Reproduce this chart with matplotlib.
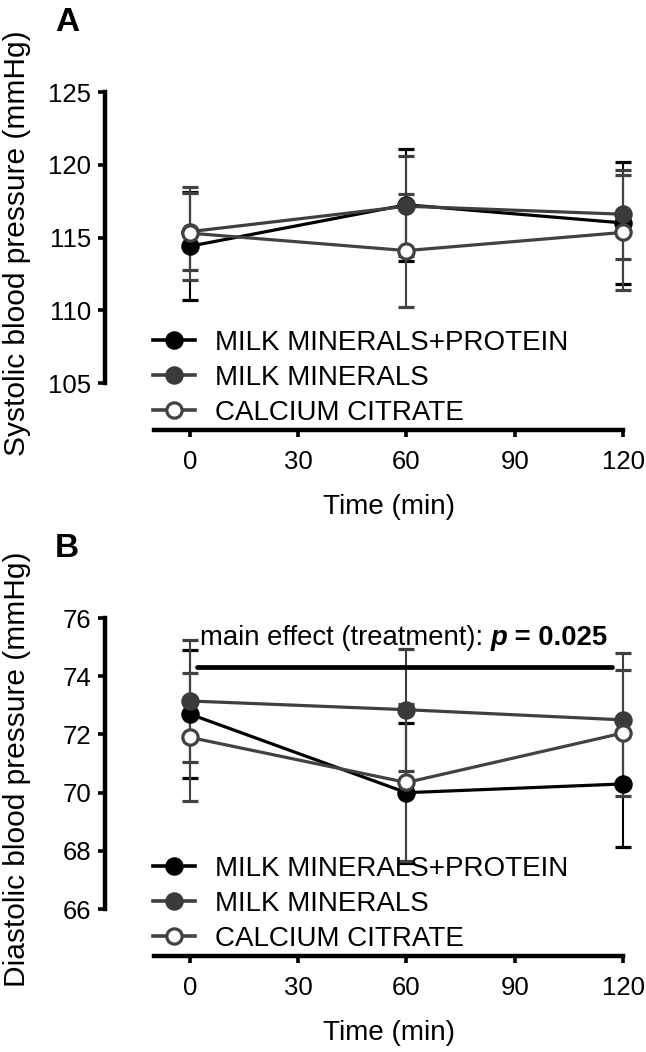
import matplotlib
matplotlib.use("Agg")
import matplotlib.pyplot as plt
from matplotlib.lines import Line2D

plt.rcParams['font.family'] = ['Liberation Sans', 'DejaVu Sans']

# Data
time = [0, 60, 120]
series = ['MILK MINERALS+PROTEIN', 'MILK MINERALS', 'CALCIUM CITRATE']

sbp_mean = {
    'MILK MINERALS+PROTEIN': [114.4, 117.25, 116.0],
    'MILK MINERALS': [115.4, 117.15, 116.6],
    'CALCIUM CITRATE': [115.3, 114.1, 115.35],
}
sbp_err = {
    'MILK MINERALS+PROTEIN': [3.7, 3.85, 4.2],
    'MILK MINERALS': [2.65, 3.45, 3.05],
    'CALCIUM CITRATE': [3.2, 3.9, 3.95],
}
dbp_mean = {
    'MILK MINERALS+PROTEIN': [72.7, 70.0, 70.3],
    'MILK MINERALS': [73.15, 72.85, 72.5],
    'CALCIUM CITRATE': [71.9, 70.35, 72.05],
}
dbp_err = {
    'MILK MINERALS+PROTEIN': [2.2, 2.4, 2.15],
    'MILK MINERALS': [2.1, 2.1, 2.3],
    'CALCIUM CITRATE': [2.2, 2.7, 2.15],
}
xticks = [0, 30, 60, 90, 120]

styles = {
    'MILK MINERALS+PROTEIN': dict(color='#000000', mfc='#000000', mec='#000000'),
    'MILK MINERALS': dict(color='#3f3f3f', mfc='#3a3a3a', mec='#3a3a3a'),
    'CALCIUM CITRATE': dict(color='#424242', mfc='white', mec='#424242'),
}

W, H = 646, 1052
fig = plt.figure(figsize=(W / 100, H / 100), dpi=100)


def make_panel(top_px, means, errs, ylim, ybounds, yticks, ylabel, letter):
    left, right, bottom = 105, 626, top_px + 338
    ax = fig.add_axes([left / W, 1 - bottom / H, (right - left) / W, 338 / H])
    handles = []
    for name in series:
        st = styles[name]
        ax.errorbar(time, means[name], yerr=errs[name], fmt='-o',
                    color=st['color'], mfc=st['mfc'], mec=st['mec'],
                    lw=2.3, ms=11, mew=2.3, elinewidth=1.5, capsize=5.5,
                    capthick=1.6, ecolor=st['color'], clip_on=False)
        handles.append(Line2D([], [], color=st['color'], marker='o',
                              mfc=st['mfc'], mec=st['mec'], lw=2.6,
                              ms=11, mew=2.3, label=name))
    ax.set_xlim(-23.5, 120.8)
    ax.set_ylim(*ylim)
    ax.spines['top'].set_visible(False)
    ax.spines['right'].set_visible(False)
    ax.spines['left'].set_linewidth(3.2)
    ax.spines['bottom'].set_linewidth(3.2)
    ax.spines['left'].set_bounds(*ybounds)
    ax.spines['bottom'].set_bounds(-10, 120)
    ax.set_xticks(xticks)
    ax.set_yticks(yticks)
    ax.tick_params(axis='both', labelsize=18.5, width=2.6, length=5)
    ax.tick_params(axis='x', pad=9.5)
    ax.tick_params(axis='y', pad=5)
    ax.set_xlabel('Time (min)', fontsize=20)
    ax.set_ylabel(ylabel, fontsize=21.5)
    ax.xaxis.set_label_coords(0.545, -0.19)
    ax.yaxis.set_label_coords(-0.142, 0.553)
    ax.legend(handles=handles, loc='upper left', bbox_to_anchor=(0.092, 0.296),
              frameon=False, fontsize=20, handlelength=1.5,
              handletextpad=0.72, borderpad=0, borderaxespad=0,
              labelspacing=0.32)
    fig.text(55 / W, 1 - (top_px - 61) / H, letter, fontsize=24,
             fontweight='bold', va='baseline')
    return ax


axA = make_panel(92, sbp_mean, sbp_err, (101.77, 125), (105, 125),
                 [105, 110, 115, 120, 125], 'Systolic blood pressure (mmHg)', 'A')
axB = make_panel(618, dbp_mean, dbp_err, (64.39, 76), (66, 76),
                 [66, 68, 70, 72, 74, 76], 'Diastolic blood pressure (mmHg)', 'B')

# significance bar
axB.plot([2, 117], [74.3, 74.3], color='black', lw=3.4, solid_capstyle='round')
t1 = axB.text(2.8, 75.07, 'main effect (treatment): ', fontsize=19.8, va='baseline')
t2 = axB.annotate('p', xy=(1, 0), xycoords=t1, fontsize=19.8,
                  fontweight='bold', fontstyle='italic', va='bottom')
axB.annotate(' = 0.025', xy=(1, 0), xycoords=t2, fontsize=19.8,
             fontweight='bold', va='bottom')

fig.savefig('out.png', dpi=100)
